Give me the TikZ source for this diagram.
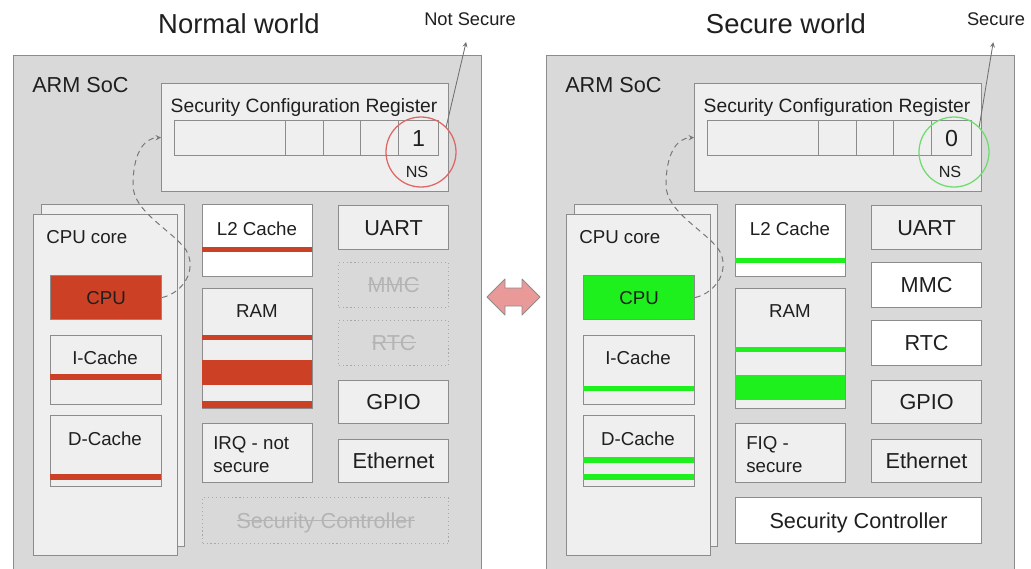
\documentclass[tikz,border=0pt]{standalone}
\usepackage{fontspec}
\setmainfont{Liberation Sans}

\definecolor{socgray}{HTML}{D9D9D9}
\definecolor{edgegray}{HTML}{8C8C8C}
\definecolor{lightbox}{HTML}{EFEFEF}
\definecolor{offtext}{HTML}{B4B4B4}
\definecolor{offedge}{HTML}{A8A8A8}
\definecolor{nsred}{HTML}{CC4125}
\definecolor{secgreen}{HTML}{1EF01E}
\definecolor{ringred}{HTML}{E06666}
\definecolor{ringgreen}{HTML}{6FDC6F}
\definecolor{swappink}{HTML}{EA9999}
\definecolor{ink}{HTML}{1F1F1F}

% struck-out text for switched-off blocks
\newcommand\strk[1]{\setbox0\hbox{#1}\rlap{\rule[0.34em]{\wd0}{0.6pt}}\box0}

\tikzset{
  sz/.style 2 args={minimum width=(#1)*0.025cm, minimum height=(#2)*0.025cm},
  titlefont/.style={font=\fontsize{19.5}{23}\selectfont},
  bigfont/.style={font=\fontsize{15.4}{18}\selectfont},
  midfont/.style={font=\fontsize{13.3}{16.4}\selectfont},
  pane/.style={draw=edgegray, fill=lightbox, line width=0.8pt, inner sep=0pt, anchor=north west},
  whitepane/.style={pane, fill=white},
  offpane/.style={pane, draw=offedge, fill=none, dotted, text=offtext, bigfont, text depth=0pt},
  devbox/.style={pane, bigfont, text=ink, text depth=0pt},
  txt/.style={inner sep=0pt, text=ink},
  lbl/.style={txt, midfont, anchor=base},
  ring/.style={circle, draw=#1, line width=0.9pt, minimum size=70*0.025cm, inner sep=0pt},
  hop/.style={->, dashed, dash pattern=on 4pt off 3pt, edgegray!85!black, line width=0.7pt},
  pointer/.style={->, edgegray!80!black, line width=0.6pt, shorten >=0.425cm},
}

\begin{document}
\begin{tikzpicture}[>=stealth, x=0.025cm, y=-0.025cm]
    \fill[white] (0,0) rectangle (1031,568);
    \clip (0,0) rectangle (1031,568);

    % titles
    \node[txt, titlefont, anchor=base] (ntitle) at (239,33) {Normal world};
    \node[txt, titlefont, anchor=base] (stitle) at (786,33) {Secure world};
    \node[txt, font=\fontsize{13}{15}\selectfont, anchor=base] (nflag) at (470,25) {Not Secure};
    \node[txt, font=\fontsize{13}{15}\selectfont, anchor=base] (sflag) at (996,25) {Secure};

    % normal world
    \node[pane, fill=socgray, sz={468}{530}] (nsoc) at (13,55) {};
    \node[txt, bigfont, anchor=base west] (nsoct) at (32,92) {ARM SoC};

    \node[pane, sz={287}{108}] (nreg) at (161,83) {};
    \node[lbl, font=\fontsize{13.7}{16}\selectfont] (nregt) at (304,112) {Security Configuration Register};
    \foreach \a/\b [count=\k] in {174/285,285/323,323/360,360/398}
        \node[pane, sz={\b-\a}{35}] (nbit\k) at (\a,120) {};
    \node[devbox, font=\fontsize{16.5}{19}\selectfont, sz={40}{35}] (nns) at (398,120) {1};
    \node[lbl, font=\fontsize{11.5}{13}\selectfont] (nnst) at (417,177) {NS};
    \node[ring=ringred] (nring) at (421,152) {};
    \draw[pointer] (nring.north east) -- (nflag.south);

    % CPU core
    \node[pane, sz={143}{342}] (ncoreb) at (41,204) {};
    \node[pane, sz={144}{341}] (ncore) at (33,214) {};
    \node[lbl, anchor=base west] (ncoret) at (46,243) {CPU core};
    \node[pane, fill=nsred, midfont, text=ink, text depth=0pt, sz={111}{44}] (ncpu) at (50,275) {CPU};
    \node[pane, sz={111}{69}] (nicache) at (50,335) {};
    \node[lbl] (nicachet) at (105,364) {I-Cache};
    \fill[nsred] (50,374) rectangle (161,380);
    \node[pane, sz={111}{71}] (ndcache) at (50,415) {};
    \node[lbl] (ndcachet) at (105,445) {D-Cache};
    \fill[nsred] (50,474) rectangle (161,480);
    \draw[hop] (ncpu.east) .. controls (185,292) and (197,268) .. (186,250)
        .. controls (172,230) and (133,212) .. (133,185)
        .. controls (133,155) and (143,138) .. (nreg.west);

    % memory
    \node[whitepane, sz={110}{72}] (nl2) at (202,204) {};
    \node[lbl] (nl2t) at (257,235) {L2 Cache};
    \fill[nsred] (202,247) rectangle (312,252);
    \node[pane, sz={110}{120}] (nram) at (202,288) {};
    \node[lbl] (nramt) at (257,317) {RAM};
    \fill[nsred] (202,335) rectangle (312,340);
    \fill[nsred] (202,360) rectangle (312,385);
    \fill[nsred] (202,401) rectangle (312,408);
    \node[pane, sz={110}{59}] (nirq) at (202,423) {};
    \node[txt, midfont, align=left, anchor=north west] (nirqt) at (213,436) {IRQ - not\\secure};
    \node[offpane, sz={246}{46}] (nsec) at (202,497) {\strk{Security Controller}};

    % peripherals
    \node[devbox, sz={110}{44}] (nuart) at (338,205) {UART};
    \node[offpane, sz={110}{45}] (nmmc) at (338,262) {\strk{MMC}};
    \node[offpane, sz={110}{45}] (nrtc) at (338,320) {\strk{RTC}};
    \node[devbox, sz={110}{43}] (ngpio) at (338,380) {GPIO};
    \node[devbox, sz={110}{43}] (neth) at (338,439) {Ethernet};

    % world switch
    \draw[edgegray, fill=swappink, line width=0.6pt, line join=round]
        (487,297) -- (505,279) -- (505,288) -- (522,288) -- (522,279) -- (540,297)
        -- (522,315) -- (522,306) -- (505,306) -- (505,315) -- cycle;

    % secure world
    \begin{scope}[shift={(533,0)}]
    \node[pane, fill=socgray, sz={468}{530}] (ssoc) at (13,55) {};
    \node[txt, bigfont, anchor=base west] (ssoct) at (32,92) {ARM SoC};

    \node[pane, sz={287}{108}] (sreg) at (161,83) {};
    \node[lbl, font=\fontsize{13.7}{16}\selectfont] (sregt) at (304,112) {Security Configuration Register};
    \foreach \a/\b [count=\k] in {174/285,285/323,323/360,360/398}
        \node[pane, sz={\b-\a}{35}] (sbit\k) at (\a,120) {};
    \node[devbox, font=\fontsize{16.5}{19}\selectfont, sz={40}{35}] (sns) at (398,120) {0};
    \node[lbl, font=\fontsize{11.5}{13}\selectfont] (snst) at (417,177) {NS};
    \node[ring=ringgreen] (sring) at (421,152) {};
    \draw[pointer] (sring.north east) -- (sflag.south);

    % CPU core
    \node[pane, sz={143}{342}] (scoreb) at (41,204) {};
    \node[pane, sz={144}{341}] (score) at (33,214) {};
    \node[lbl, anchor=base west] (scoret) at (46,243) {CPU core};
    \node[pane, fill=secgreen, midfont, text=ink, text depth=0pt, sz={111}{44}] (scpu) at (50,275) {CPU};
    \node[pane, sz={111}{69}] (sicache) at (50,335) {};
    \node[lbl] (sicachet) at (105,364) {I-Cache};
    \fill[secgreen] (50,386) rectangle (161,391);
    \node[pane, sz={111}{71}] (sdcache) at (50,415) {};
    \node[lbl] (sdcachet) at (105,445) {D-Cache};
    \fill[secgreen] (50,457) rectangle (161,463);
    \fill[secgreen] (50,474) rectangle (161,480);
    \draw[hop] (scpu.east) .. controls (185,292) and (197,268) .. (186,250)
        .. controls (172,230) and (133,212) .. (133,185)
        .. controls (133,155) and (143,138) .. (sreg.west);

    % memory
    \node[whitepane, sz={110}{72}] (sl2) at (202,204) {};
    \node[lbl] (sl2t) at (257,235) {L2 Cache};
    \fill[secgreen] (202,258) rectangle (312,263);
    \node[pane, sz={110}{120}] (sram) at (202,288) {};
    \node[lbl] (sramt) at (257,317) {RAM};
    \fill[secgreen] (202,347) rectangle (312,352);
    \fill[secgreen] (202,375) rectangle (312,400);
    \node[pane, sz={110}{59}] (sfiq) at (202,423) {};
    \node[txt, midfont, align=left, anchor=north west] (sfiqt) at (213,436) {FIQ -\\secure};
    \node[whitepane, bigfont, text=ink, text depth=0pt, sz={246}{46}] (ssec) at (202,497) {Security Controller};

    % peripherals
    \node[devbox, sz={110}{44}] (suart) at (338,205) {UART};
    \node[devbox, fill=white, sz={110}{45}] (smmc) at (338,262) {MMC};
    \node[devbox, fill=white, sz={110}{45}] (srtc) at (338,320) {RTC};
    \node[devbox, sz={110}{43}] (sgpio) at (338,380) {GPIO};
    \node[devbox, sz={110}{43}] (seth) at (338,439) {Ethernet};
    \end{scope}
\end{tikzpicture}
\end{document}
